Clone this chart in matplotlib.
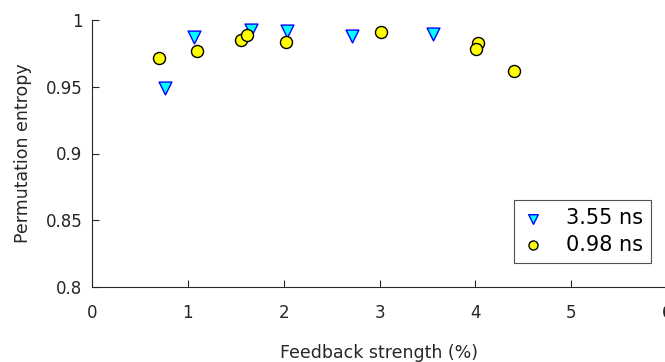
import matplotlib.pyplot as plt

### Data
FB_355 = [0.76, 1.065, 1.66, 2.035, 2.71, 3.56]
PE_355 = [0.949, 0.987, 0.9925, 0.992, 0.988, 0.9895]

FB_098 = [0.70, 1.10, 1.555, 1.62, 2.025, 3.02, 4.03, 4.01, 4.405]
PE_098 = [0.9715, 0.977, 0.985, 0.989, 0.9835, 0.991, 0.983, 0.978, 0.962]

X_TICKS = [0, 1, 2, 3, 4, 5, 6]
Y_TICKS = [0.8, 0.85, 0.9, 0.95, 1]
Y_TICK_LABELS = ["0.8", "0.85", "0.9", "0.95", "1"]

TEXT_COLOR = "#262626"

plt.rcParams["font.family"] = "DejaVu Sans"

fig = plt.figure(figsize=(6.65, 3.62), dpi=100)
ax = fig.add_axes([92 / 665, 75 / 362, 575 / 665, 267 / 362])

ax.scatter(FB_355, PE_355, marker="v", s=85, facecolor="cyan",
           edgecolor="blue", linewidth=1, label="3.55 ns", zorder=3)
ax.scatter(FB_098, PE_098, marker="o", s=75, facecolor="yellow",
           edgecolor="black", linewidth=1, label="0.98 ns", zorder=3)

ax.set_xlim(0, 6)
ax.set_ylim(0.8, 1)
ax.set_xticks(X_TICKS)
ax.set_yticks(Y_TICKS)
ax.set_yticklabels(Y_TICK_LABELS)

# Only the left and bottom axis lines, ticks pointing in
for side in ["top", "right"]:
    ax.spines[side].set_visible(False)
for side in ["left", "bottom"]:
    ax.spines[side].set_color(TEXT_COLOR)
    ax.spines[side].set_linewidth(0.8)
ax.tick_params(direction="in", length=5, width=0.8, colors=TEXT_COLOR,
               labelsize=12)
ax.tick_params(axis="x", pad=12)
ax.tick_params(axis="y", pad=7)

ax.set_xlabel("Feedback strength (%)", fontsize=12.5, color=TEXT_COLOR, labelpad=16)
ax.set_ylabel("Permutation entropy", fontsize=12.5, color=TEXT_COLOR, labelpad=10)

leg = ax.legend(loc="lower right", bbox_to_anchor=(559 / 575, 24 / 267),
                fontsize=15, frameon=True, fancybox=False, markerscale=0.75,
                handletextpad=1.0, borderpad=0.4, labelspacing=0.3,
                handlelength=1.1, borderaxespad=0)
leg.get_frame().set_edgecolor(TEXT_COLOR)
leg.get_frame().set_linewidth(0.8)
for t in leg.get_texts():
    t.set_color("black")

fig.savefig("out.png", dpi=100)
